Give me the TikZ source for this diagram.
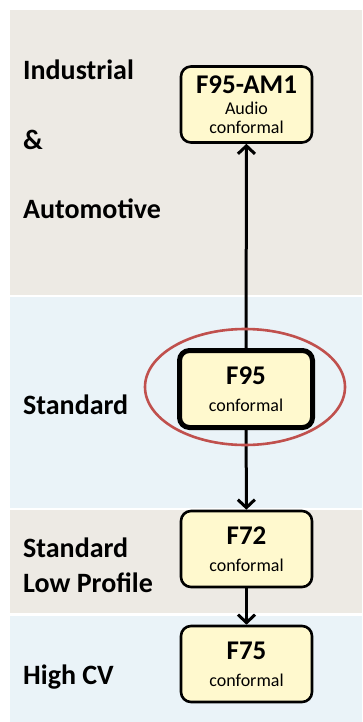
\documentclass[tikz,border=0pt]{standalone}
\usepackage{fontspec}
\setmainfont{Carlito}
\usetikzlibrary{arrows.meta}
\definecolor{bandgrey}{RGB}{237,234,228}
\definecolor{bandblue}{RGB}{234,243,248}
\definecolor{partfill}{RGB}{255,249,206}
\definecolor{ringred}{RGB}{192,80,77}
\newcommand\PartName[1]{{\bfseries\fontsize{27}{27}\selectfont #1}}
\tikzset{
  part/.style={draw=black, line width=2.6pt, rounded corners=10pt, fill=partfill,
    minimum width=131pt, minimum height=76pt, align=center, inner sep=1pt,
    font=\fontsize{18}{19}\selectfont},
  tier/.style={anchor=west, align=left, inner sep=0pt,
    font=\bfseries\fontsize{28}{35}\selectfont},
  link/.style={line width=3pt, -{Straight Barb[length=8pt,width=17pt,line width=3pt]}},
}

\begin{document}
\begin{tikzpicture}[x=1pt,y=-1pt] % package tiers

\useasboundingbox (0,0) rectangle (362,722);
% background bands
\fill[bandgrey] (10,10) rectangle (362,295);
\fill[bandblue] (10,297) rectangle (362,508);
\fill[bandgrey] (10,510) rectangle (362,613);
\fill[bandblue] (10,616) rectangle (362,722);
% tier names
\node[tier] (industrial) at (23,70) {Industrial};
\node[tier] (amp) at (23,140) {\&};
\node[tier] (automotive) at (23,209) {Automotive};
\node[tier] (standard) at (23,405) {Standard};
\node[tier] (lowprofile) at (23,565) {Standard\\Low Profile};
\node[tier] (highcv) at (23,677) {High CV};
% parts
\node[part] (f95am1) at (246.5,104.5) {\PartName{F95-AM1}\\[2pt]Audio\\conformal};
\node[part, line width=5pt, minimum width=133pt, minimum height=77pt] (f95) at (246,389) {\PartName{F95}\\[8pt]conformal};
\node[part] (f72) at (246.5,549) {\PartName{F72}\\[8pt]conformal};
\node[part] (f75) at (246.5,664) {\PartName{F75}\\[8pt]conformal};
% links
\draw[link] (f95) -- (f95am1);
\draw[link] (f95) -- (f72);
\draw[link] (f72) -- (f75);
% highlight
\draw[ringred, line width=2.6pt] (245,387) ellipse [x radius=100, y radius=58];
\end{tikzpicture}
\end{document}
